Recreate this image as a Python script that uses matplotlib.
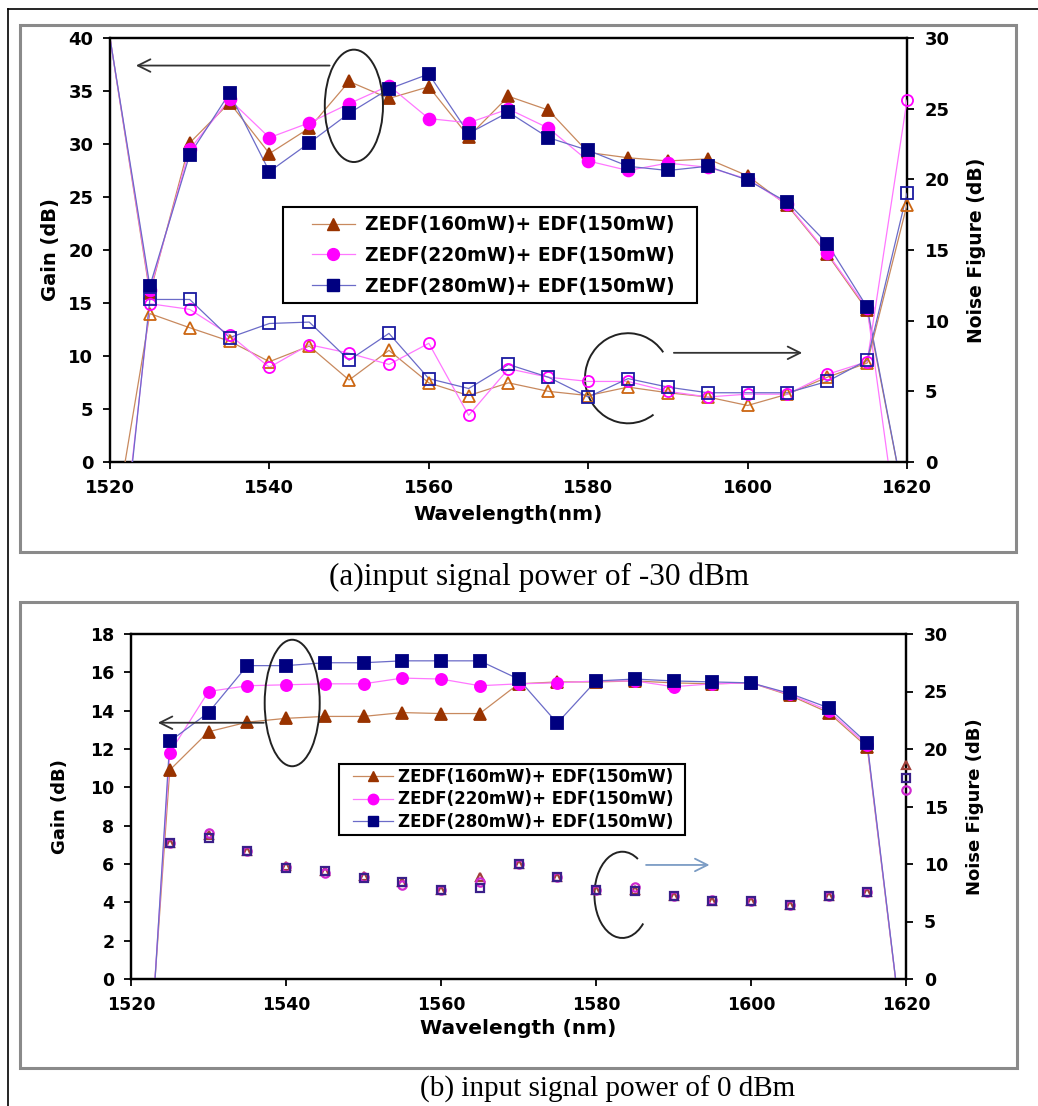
import numpy as np
import matplotlib
matplotlib.use("Agg")
import matplotlib.pyplot as plt
from matplotlib.patches import Ellipse, Arc, Rectangle
from matplotlib.lines import Line2D

plt.rcParams['font.family'] = ['DejaVu Sans']
plt.rcParams['font.weight'] = 'bold'

wavelength = [1520, 1525, 1530, 1535, 1540, 1545, 1550, 1555, 1560, 1565, 1570,
              1575, 1580, 1585, 1590, 1595, 1600, 1605, 1610, 1615, 1620]

labels = ["ZEDF(160mW)+ EDF(150mW)", "ZEDF(220mW)+ EDF(150mW)", "ZEDF(280mW)+ EDF(150mW)"]

# (a) input signal power of -30 dBm
gain_a_160 = [40, 15.9, 30.1, 33.9, 29.1, 31.5, 35.9, 34.3, 35.4, 30.7, 34.5,
              33.2, 29.2, 28.7, 28.4, 28.6, 27.0, 24.2, 19.6, 14.3, -5.0]
gain_a_220 = [40, 16.2, 29.5, 34.2, 30.6, 32.0, 33.8, 35.5, 32.4, 32.0, 33.3,
              31.5, 28.4, 27.5, 28.2, 27.8, 26.7, 24.3, 19.7, 14.5, -13.0]
gain_a_280 = [40, 16.6, 29.0, 34.8, 27.4, 30.1, 32.9, 35.2, 36.6, 31.0, 33.0,
              30.6, 29.4, 27.9, 27.5, 27.9, 26.6, 24.5, 20.6, 14.6, -5.0]
nf_a_160 = [-6.4, 10.5, 9.5, 8.55, 7.1, 8.2, 5.8, 7.9, 5.6, 4.7, 5.6,
            5.0, 4.7, 5.3, 4.9, 4.6, 4.0, 4.8, 6.0, 7.0, 18.2]
nf_a_220 = [-14.0, 11.2, 10.8, 9.0, 6.7, 8.3, 7.7, 6.9, 8.4, 3.3, 6.6,
            6.0, 5.7, 5.7, 5.0, 4.6, 4.8, 4.8, 6.2, 7.1, 25.6]
nf_a_280 = [-15.0, 11.5, 11.5, 8.8, 9.8, 9.9, 7.2, 9.1, 5.9, 5.2, 6.9,
            6.0, 4.6, 5.9, 5.3, 4.9, 4.9, 4.9, 5.7, 7.2, 19.0]

# (b) input signal power of 0 dBm
gain_b_160 = [-17.8, 10.9, 12.9, 13.4, 13.6, 13.7, 13.7, 13.9, 13.85, 13.85, 15.4,
              15.5, 15.5, 15.55, 15.45, 15.4, 15.45, 14.8, 13.9, 12.1, -4.5]
gain_b_220 = [-19.0, 11.8, 15.0, 15.3, 15.35, 15.4, 15.4, 15.7, 15.65, 15.3, 15.4,
              15.45, 15.55, 15.55, 15.25, 15.4, 15.45, 14.85, 14.0, 12.2, -4.5]
gain_b_280 = [-20.3, 12.4, 13.9, 16.35, 16.35, 16.5, 16.5, 16.6, 16.6, 16.6, 15.65,
              13.35, 15.55, 15.65, 15.55, 15.5, 15.45, 14.9, 14.15, 12.3, -4.5]
nf_b_160 = [np.nan, 11.8, 12.5, 11.1, 9.8, 9.4, 9.0, 8.4, 7.75, 8.9, 10.0,
            8.85, 7.75, 7.75, 7.2, 6.8, 6.8, 6.45, 7.2, 7.6, 18.6]
nf_b_220 = [np.nan, 11.8, 12.7, 11.1, 9.7, 9.2, 8.9, 8.2, 7.75, 8.4, 10.0,
            8.85, 7.75, 8.0, 7.2, 6.85, 6.8, 6.45, 7.2, 7.6, 16.4]
nf_b_280 = [np.nan, 11.8, 12.25, 11.1, 9.65, 9.4, 8.8, 8.45, 7.75, 7.9, 10.0,
            8.85, 7.75, 7.65, 7.2, 6.8, 6.8, 6.45, 7.2, 7.55, 17.5]

W, H = 1038, 1106
fig = plt.figure(figsize=(W / 100, H / 100), dpi=100)
fig.patch.set_facecolor('white')


def fx(px):
    return px / W


def fy(py):
    return 1 - py / H


def px_rect(x0, y0, x1, y1):
    return [fx(x0), fy(y1), fx(x1) - fx(x0), fy(y0) - fy(y1)]


def px_box(x0, y0, x1, y1, ec, lw, fc='none', z=0):
    rect = Rectangle((fx(x0), fy(y1)), fx(x1) - fx(x0), fy(y0) - fy(y1),
                     transform=fig.transFigure, fc=fc, ec=ec, lw=lw, zorder=z)
    fig.patches.append(rect)
    return rect


# series styles: (marker, marker colour, line colour, open-marker edge colour)
styles = [
    ('^', '#993300', '#c8895e', '#cc6611'),
    ('o', '#ff00ff', '#ff77ff', '#ff00ff'),
    ('s', '#000080', '#6b6bc8', '#1a1aa0'),
]


def draw_series(ax, x, y, marker, mfc, mec, lc, ms, lw, mew=1.3, line=True, zorder=3):
    y = np.asarray(y, dtype=float)
    lo, hi = ax.get_ylim()
    if line:
        ax.plot(x, y, '-', color=lc, lw=lw, zorder=zorder, clip_on=True)
    keep = [i for i, v in enumerate(y) if np.isfinite(v) and lo <= v < hi]
    ax.plot(x, y, linestyle='none', marker=marker, ms=ms, mfc=mfc, mec=mec,
            mew=mew, markevery=keep, clip_on=False, zorder=zorder + 1)


def style_axes(ax, ax2, fs):
    for a in (ax, ax2):
        for s in a.spines.values():
            s.set_linewidth(1.6)
            s.set_color('black')
        a.tick_params(direction='out', length=5, width=1.3, labelsize=fs,
                      colors='black')
    ax.tick_params(axis='y', pad=7)
    ax.tick_params(axis='x', pad=7)
    ax2.tick_params(axis='y', pad=8)


arrow_style = '->,head_length=0.9,head_width=0.45'

# ---------------- panel (a) ----------------
axA = fig.add_axes(px_rect(110, 38, 907, 462))
axA2 = axA.twinx()
axA.set_xlim(1520, 1620)
axA.set_ylim(0, 40)
axA2.set_ylim(0, 30)
axA.set_xticks(np.arange(1520, 1621, 20))
axA.set_yticks(np.arange(0, 41, 5))
axA2.set_yticks(np.arange(0, 31, 5))
style_axes(axA, axA2, 13)

for (mk, mc, lc, ec), g, n in zip(styles, [gain_a_160, gain_a_220, gain_a_280],
                                  [nf_a_160, nf_a_220, nf_a_280]):
    draw_series(axA, wavelength, g, mk, mc, mc, lc, 8.5, 0.9)
    draw_series(axA2, wavelength, n, mk, 'none', ec, lc, 8, 0.9)

axA.set_xlabel('Wavelength(nm)', fontsize=14.5, fontweight='bold', labelpad=6)
axA.set_ylabel('Gain (dB)', fontsize=14, fontweight='bold', labelpad=6)
axA2.set_ylabel('Noise Figure (dB)', fontsize=13.5, fontweight='bold', labelpad=12)

handles = [Line2D([], [], color=lc, lw=0.9, marker=mk, ms=8.5, mfc=mc, mec=mc)
           for mk, mc, lc, ec in styles]
legA = fig.legend(handles, labels, loc='center left',
                  bbox_to_anchor=(fx(312), fy(255.5)), bbox_transform=fig.transFigure,
                  borderaxespad=0, borderpad=0, frameon=False, handlelength=2.3,
                  labelspacing=0.62, handletextpad=0.55,
                  prop={'weight': 'bold', 'size': 13.4})
legA.set_zorder(8)
px_box(283, 207, 697, 303, 'black', 1.5, fc='white', z=7)

# left-pointing gain marker and right-pointing noise-figure marker
axA.add_patch(Ellipse((1550.6, 33.6), 7.3, 10.6, fill=False, ec='#222222', lw=1.4, zorder=6))
axA.annotate('', xy=(1522.9, 37.4), xytext=(1547.9, 37.4),
             arrowprops=dict(arrowstyle=arrow_style, color='#333333', lw=1.3), zorder=6)
axA.add_patch(Arc((1585.0, 7.9), 10.8, 8.5, theta1=29, theta2=313,
                  ec='#222222', lw=1.4, zorder=6))
axA.annotate('', xy=(1607.2, 10.3), xytext=(1590.4, 10.3),
             arrowprops=dict(arrowstyle=arrow_style, color='#333333', lw=1.3), zorder=6)

# ---------------- panel (b) ----------------
axB = fig.add_axes(px_rect(131, 634, 906, 979))
axB2 = axB.twinx()
axB.set_xlim(1520, 1620)
axB.set_ylim(0, 18)
axB2.set_ylim(0, 30)
axB.set_xticks(np.arange(1520, 1621, 20))
axB.set_yticks(np.arange(0, 19, 2))
axB2.set_yticks(np.arange(0, 31, 5))
style_axes(axB, axB2, 12.5)

nf_b_colors = ['#a0403a', '#d028d0', '#3a1f8a']
for (mk, mc, lc, ec), g, n, nc in zip(styles, [gain_b_160, gain_b_220, gain_b_280],
                                      [nf_b_160, nf_b_220, nf_b_280], nf_b_colors):
    draw_series(axB, wavelength, g, mk, mc, mc, lc, 8, 0.9)
    draw_series(axB2, wavelength, n, mk, 'none', nc, lc, 6, 0.9, mew=1.6, line=False)

axB.set_xlabel('Wavelength (nm)', fontsize=14.5, fontweight='bold', labelpad=4)
axB.set_ylabel('Gain (dB)', fontsize=13, fontweight='bold', labelpad=15)
axB2.set_ylabel('Noise Figure (dB)', fontsize=13, fontweight='bold', labelpad=13)

handlesB = [Line2D([], [], color=lc, lw=0.9, marker=mk, ms=7.5, mfc=mc, mec=mc)
            for mk, mc, lc, ec in styles]
legB = fig.legend(handlesB, labels, loc='center left',
                  bbox_to_anchor=(fx(353), fy(799.5)), bbox_transform=fig.transFigure,
                  borderaxespad=0, borderpad=0, frameon=False, handlelength=2.4,
                  labelspacing=0.27, handletextpad=0.3,
                  prop={'weight': 'bold', 'size': 12})
legB.set_zorder(8)
px_box(339, 764, 685, 835, 'black', 1.5, fc='white', z=7)

axB.add_patch(Ellipse((1540.8, 14.4), 7.1, 6.6, fill=False, ec='#222222', lw=1.4, zorder=6))
axB.annotate('', xy=(1523.1, 13.37), xytext=(1537.5, 13.37),
             arrowprops=dict(arrowstyle=arrow_style, color='#333333', lw=1.3), zorder=6)
axB.add_patch(Arc((1583.4, 4.39), 7.2, 4.5, theta1=43, theta2=331,
                  ec='#222222', lw=1.4, zorder=6))
axB.annotate('', xy=(1595.0, 5.95), xytext=(1586.1, 5.95),
             arrowprops=dict(arrowstyle=arrow_style, color='#7b9cc4', lw=1.3), zorder=6)

# ---------------- frames and captions ----------------
px_box(20, 25, 1016, 552, '#8a8a8a', 2.2)
px_box(20, 602, 1017, 1068, '#8a8a8a', 2.2)
fig.lines.append(Line2D([fx(8), fx(1038)], [fy(9), fy(9)], transform=fig.transFigure,
                        color='black', lw=1.2))
fig.lines.append(Line2D([fx(8), fx(8)], [fy(9), fy(1106)], transform=fig.transFigure,
                        color='black', lw=1.2))

serif = ['Liberation Serif', 'DejaVu Serif']
fig.text(fx(539), fy(577), '(a)input signal power of -30 dBm', ha='center', va='center',
         fontsize=22.5, family=serif, fontweight='normal')
fig.text(fx(608), fy(1089), '(b) input signal power of 0 dBm', ha='center', va='center',
         fontsize=21, family=serif, fontweight='normal')

fig.savefig('out.png', dpi=100, facecolor='white')
